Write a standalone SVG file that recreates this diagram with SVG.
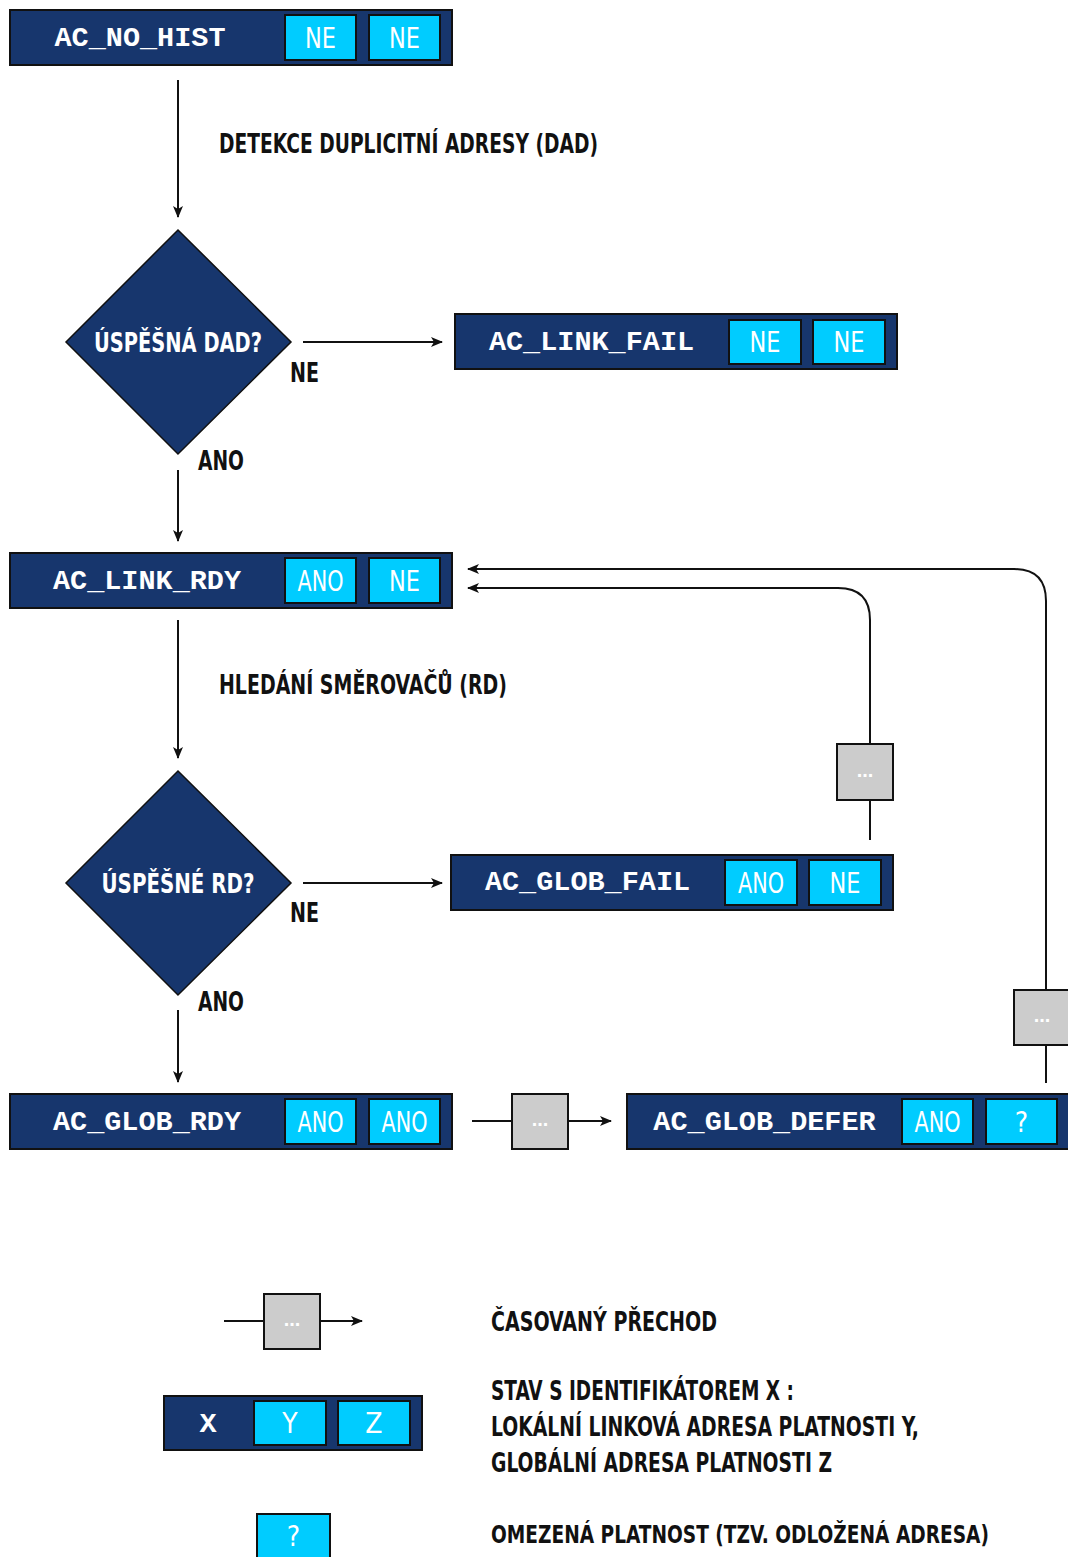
<svg xmlns="http://www.w3.org/2000/svg" width="1068" height="1557" viewBox="0 0 1068 1557">
<style>
  .state { fill: #17366d; stroke: #111; stroke-width: 2; }
  .flag { fill: #00ccff; stroke: #111; stroke-width: 2; }
  .timer { fill: #cccccc; stroke: #111; stroke-width: 2; }
  .dia { fill: #17366d; stroke: #111; stroke-width: 1.5; }
  .sid { font-family: "Liberation Mono", "Courier New", monospace; font-weight: bold; font-size: 28.5px; fill: #fff; text-anchor: middle; }
  .fl { font-family: "Liberation Sans Narrow", "DejaVu Sans Condensed", "Liberation Sans", sans-serif; font-size: 28px; fill: #fff; text-anchor: middle; }
  .lbl { font-family: "Liberation Sans Narrow", "DejaVu Sans Condensed", "Liberation Sans", sans-serif; font-weight: bold; font-size: 26px; fill: #111; }
  .dlbl { font-family: "Liberation Sans Narrow", "DejaVu Sans Condensed", "Liberation Sans", sans-serif; font-weight: bold; font-size: 26px; fill: #fff; text-anchor: middle; }
  .dots { font-family: "Liberation Sans", sans-serif; font-weight: bold; font-size: 20px; fill: #fff; text-anchor: middle; }
  .edge { fill: none; stroke: #111; stroke-width: 2; }
</style>
<defs>
  <marker id="arr" viewBox="0 0 12 10" refX="11" refY="5" markerWidth="12" markerHeight="10" markerUnits="userSpaceOnUse" orient="auto">
    <path d="M0,0 L12,5 L0,10 L3,5 Z" fill="#111"/>
  </marker>
</defs>

<!-- connectors -->
<g id="connectors">
  <line class="edge" x1="178" y1="80" x2="178" y2="217" marker-end="url(#arr)"/>
  <line class="edge" x1="303" y1="342" x2="442" y2="342" marker-end="url(#arr)"/>
  <line class="edge" x1="178" y1="470" x2="178" y2="541" marker-end="url(#arr)"/>
  <line class="edge" x1="178" y1="620" x2="178" y2="758" marker-end="url(#arr)"/>
  <line class="edge" x1="303" y1="883" x2="442" y2="883" marker-end="url(#arr)"/>
  <line class="edge" x1="178" y1="1010" x2="178" y2="1082" marker-end="url(#arr)"/>
  <!-- glob fail back to link rdy -->
  <path class="edge" d="M870,840 L870,800 M870,744 L870,620 Q870,588 838,588 L468,588" marker-end="url(#arr)"/>
  <!-- glob defer back to link rdy -->
  <path class="edge" d="M1046,1083 L1046,1045 M1046,990 L1046,601 Q1046,569 1014,569 L468,569" marker-end="url(#arr)"/>
  <!-- glob rdy to glob defer -->
  <line class="edge" x1="472" y1="1121" x2="512" y2="1121"/>
  <line class="edge" x1="568" y1="1121" x2="611" y2="1121" marker-end="url(#arr)"/>
  <!-- legend timed transition -->
  <line class="edge" x1="224" y1="1321" x2="264" y2="1321"/>
  <line class="edge" x1="320" y1="1321" x2="362" y2="1321" marker-end="url(#arr)"/>
</g>

<!-- timers -->
<g id="timer-fail">
  <rect class="timer" x="837" y="744" width="56" height="56"/>
  <text class="dots" x="865" y="777">...</text>
</g>
<g id="timer-defer">
  <rect class="timer" x="1014" y="990" width="60" height="55"/>
  <text class="dots" x="1042" y="1022">...</text>
</g>
<g id="timer-rdy">
  <rect class="timer" x="512" y="1094" width="56" height="55"/>
  <text class="dots" x="540" y="1126">...</text>
</g>

<!-- states -->
<g id="ac-no-hist">
  <rect class="state" x="10" y="10" width="442" height="55"/>
  <text class="sid" x="140" y="46">AC_NO_HIST</text>
  <rect class="flag" x="285" y="15" width="71" height="45"/>
  <text class="fl" x="320.5" y="48" textLength="31" lengthAdjust="spacingAndGlyphs">NE</text>
  <rect class="flag" x="369" y="15" width="71" height="45"/>
  <text class="fl" x="404.5" y="48" textLength="31" lengthAdjust="spacingAndGlyphs">NE</text>
</g>

<g id="dad">
  <polygon class="dia" points="178,230 291,342 178,454 66,342"/>
  <text class="dlbl" x="178" y="352" textLength="168" lengthAdjust="spacingAndGlyphs">ÚSPĚŠNÁ DAD?</text>
</g>

<g id="ac-link-fail">
  <rect class="state" x="455" y="314" width="442" height="55"/>
  <text class="sid" x="591.5" y="350">AC_LINK_FAIL</text>
  <rect class="flag" x="729" y="320" width="72" height="44"/>
  <text class="fl" x="765" y="352" textLength="31" lengthAdjust="spacingAndGlyphs">NE</text>
  <rect class="flag" x="813" y="320" width="72" height="44"/>
  <text class="fl" x="849" y="352" textLength="31" lengthAdjust="spacingAndGlyphs">NE</text>
</g>

<g id="ac-link-rdy">
  <rect class="state" x="10" y="553" width="442" height="55"/>
  <text class="sid" x="147" y="589">AC_LINK_RDY</text>
  <rect class="flag" x="285" y="558" width="71" height="45"/>
  <text class="fl" x="320.5" y="591" textLength="46" lengthAdjust="spacingAndGlyphs">ANO</text>
  <rect class="flag" x="369" y="558" width="71" height="45"/>
  <text class="fl" x="404.5" y="591" textLength="31" lengthAdjust="spacingAndGlyphs">NE</text>
</g>

<g id="rd">
  <polygon class="dia" points="178,771 291,883 178,995 66,883"/>
  <text class="dlbl" x="178" y="893" textLength="153" lengthAdjust="spacingAndGlyphs">ÚSPĚŠNÉ RD?</text>
</g>

<g id="ac-glob-fail">
  <rect class="state" x="451" y="855" width="442" height="55"/>
  <text class="sid" x="587.5" y="890">AC_GLOB_FAIL</text>
  <rect class="flag" x="725" y="860" width="72" height="45"/>
  <text class="fl" x="761" y="893" textLength="46" lengthAdjust="spacingAndGlyphs">ANO</text>
  <rect class="flag" x="809" y="860" width="72" height="45"/>
  <text class="fl" x="845" y="893" textLength="31" lengthAdjust="spacingAndGlyphs">NE</text>
</g>

<g id="ac-glob-rdy">
  <rect class="state" x="10" y="1094" width="442" height="55"/>
  <text class="sid" x="147" y="1130">AC_GLOB_RDY</text>
  <rect class="flag" x="285" y="1099" width="71" height="45"/>
  <text class="fl" x="320.5" y="1132" textLength="46" lengthAdjust="spacingAndGlyphs">ANO</text>
  <rect class="flag" x="369" y="1099" width="71" height="45"/>
  <text class="fl" x="404.5" y="1132" textLength="46" lengthAdjust="spacingAndGlyphs">ANO</text>
</g>

<g id="ac-glob-defer">
  <rect class="state" x="627" y="1094" width="450" height="55"/>
  <text class="sid" x="764.5" y="1130">AC_GLOB_DEFER</text>
  <rect class="flag" x="902" y="1099" width="71" height="45"/>
  <text class="fl" x="937.5" y="1132" textLength="46" lengthAdjust="spacingAndGlyphs">ANO</text>
  <rect class="flag" x="986" y="1099" width="71" height="45"/>
  <text class="fl" x="1021.5" y="1132">?</text>
</g>

<!-- edge labels -->
<g id="labels">
  <text class="lbl" x="219" y="153" textLength="379" lengthAdjust="spacingAndGlyphs">DETEKCE DUPLICITNÍ ADRESY (DAD)</text>
  <text class="lbl" x="290" y="382" textLength="29" lengthAdjust="spacingAndGlyphs">NE</text>
  <text class="lbl" x="198" y="470" textLength="46" lengthAdjust="spacingAndGlyphs">ANO</text>
  <text class="lbl" x="219" y="694" textLength="288" lengthAdjust="spacingAndGlyphs">HLEDÁNÍ SMĚROVAČŮ (RD)</text>
  <text class="lbl" x="290" y="922" textLength="29" lengthAdjust="spacingAndGlyphs">NE</text>
  <text class="lbl" x="198" y="1011" textLength="46" lengthAdjust="spacingAndGlyphs">ANO</text>
</g>

<!-- legend -->
<g id="legend-timer">
  <rect class="timer" x="264" y="1294" width="56" height="55"/>
  <text class="dots" x="292" y="1326">...</text>
  <text class="lbl" x="491" y="1331" textLength="226" lengthAdjust="spacingAndGlyphs">ČASOVANÝ PŘECHOD</text>
</g>
<g id="legend-state">
  <rect class="state" x="164" y="1396" width="258" height="54"/>
  <text class="sid" x="208" y="1432">X</text>
  <rect class="flag" x="254" y="1401" width="72" height="44"/>
  <text class="fl" x="290" y="1433">Y</text>
  <rect class="flag" x="338" y="1401" width="72" height="44"/>
  <text class="fl" x="374" y="1433">Z</text>
  <text class="lbl" x="491" y="1400" textLength="303" lengthAdjust="spacingAndGlyphs">STAV S IDENTIFIKÁTOREM X :</text>
  <text class="lbl" x="491" y="1436" textLength="428" lengthAdjust="spacingAndGlyphs">LOKÁLNÍ LINKOVÁ ADRESA PLATNOSTI Y,</text>
  <text class="lbl" x="491" y="1472" textLength="341" lengthAdjust="spacingAndGlyphs">GLOBÁLNÍ ADRESA PLATNOSTI Z</text>
</g>
<g id="legend-deferred">
  <rect class="flag" x="257" y="1514" width="73" height="50"/>
  <text class="fl" x="293.5" y="1546">?</text>
  <text class="lbl" x="491" y="1543" style="font-size:25px" textLength="498" lengthAdjust="spacingAndGlyphs">OMEZENÁ PLATNOST (TZV. ODLOŽENÁ ADRESA)</text>
</g>
</svg>
